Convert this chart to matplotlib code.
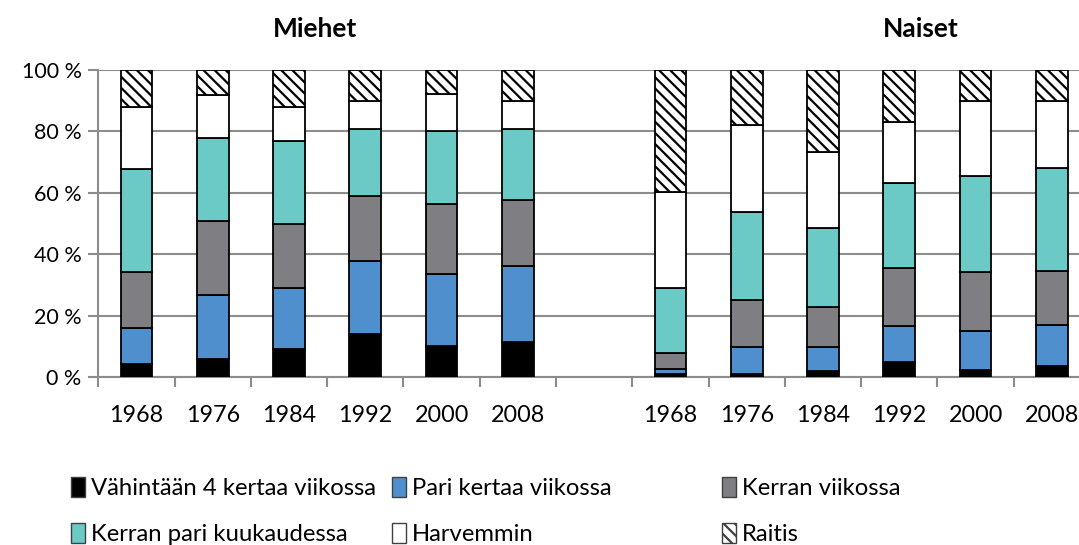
import matplotlib
matplotlib.use("Agg")
import matplotlib.pyplot as plt
from matplotlib.patches import Patch
import numpy as np

plt.rcParams['font.family'] = ['Lato', 'DejaVu Sans']
plt.rcParams['hatch.linewidth'] = 1.6

years = ["1968", "1976", "1984", "1992", "2000", "2008"]
groups = ["Miehet", "Naiset"]
series = ["Vähintään 4 kertaa viikossa", "Pari kertaa viikossa", "Kerran viikossa",
          "Kerran pari kuukaudessa", "Harvemmin", "Raitis"]

# segment sizes (percent)
men_vah = [4.1, 6.0, 9.1, 14.1, 10.0, 11.4]
men_pari = [11.8, 20.8, 19.8, 23.8, 23.5, 24.9]
men_kerran = [18.4, 24.1, 21.1, 21.0, 22.7, 21.4]
men_kuuk = [33.3, 27.0, 26.9, 21.9, 24.0, 23.2]
men_harv = [20.3, 14.0, 11.0, 9.1, 11.9, 9.1]
men_raitis = [12.1, 8.1, 12.1, 10.1, 7.9, 10.0]

women_vah = [1.1, 0.9, 2.0, 5.0, 2.2, 3.5]
women_pari = [1.6, 8.9, 7.8, 11.6, 12.7, 13.6]
women_kerran = [5.1, 15.3, 12.9, 18.9, 19.4, 17.4]
women_kuuk = [21.3, 28.8, 25.8, 27.7, 31.1, 33.7]
women_harv = [31.3, 28.1, 24.7, 20.0, 24.4, 21.6]
women_raitis = [39.6, 18.0, 26.8, 16.8, 10.2, 10.2]

colors = ["#000000", "#4F8FCE", "#7F7F83", "#6BCAC5", "#FFFFFF", "#FFFFFF"]
hatches = [None, None, None, None, None, "\\\\\\"]

men = [men_vah, men_pari, men_kerran, men_kuuk, men_harv, men_raitis]
women = [women_vah, women_pari, women_kerran, women_kuuk, women_harv, women_raitis]

fig = plt.figure(figsize=(10.79, 5.45), dpi=100)
ax = fig.add_axes([98.3 / 1079, 1 - 377 / 545, (1090 - 98.3) / 1079, (377 - 70) / 545])

xm = np.arange(6)
xw = np.arange(7, 13)
width = 0.415
grid_c = "#8C8C8C"

for vals_set, xpos in [(men, xm), (women, xw)]:
    bottom = np.zeros(6)
    for i, vals in enumerate(vals_set):
        v = np.array(vals)
        ax.bar(xpos, v, width, bottom=bottom, color=colors[i], edgecolor="black",
               linewidth=1.3, hatch=hatches[i], zorder=3)
        bottom += v

ax.set_xlim(-0.5, 12.5)
ax.set_ylim(0, 100)
ax.set_yticks(np.arange(0, 101, 20))
ax.set_yticklabels([f"{v} %" for v in range(0, 101, 20)], fontsize=15.5)
ax.yaxis.grid(True, color=grid_c, linewidth=1.5, zorder=0)
ax.set_axisbelow(True)

ax.set_xticks(np.arange(-0.5, 13, 1.0))
ax.set_xticklabels([])
ax.set_xticks(list(xm) + list(xw), minor=True)
ax.set_xticklabels(years + years, minor=True, fontsize=16.8)
ax.tick_params(axis='x', which='major', length=7, width=1.5, color=grid_c, direction='out')
ax.tick_params(axis='x', which='minor', length=0, pad=20)
ax.tick_params(axis='y', length=7, width=1.5, color=grid_c, pad=5)

for s in ['top', 'right']:
    ax.spines[s].set_visible(False)
for s in ['left', 'bottom']:
    ax.spines[s].set_color(grid_c)
    ax.spines[s].set_linewidth(1.5)

fig.text(315 / 1079, 1 - 29 / 545, groups[0], fontsize=19, fontweight='bold', ha='center', va='center')
fig.text(921 / 1079, 1 - 29 / 545, groups[1], fontsize=19, fontweight='bold', ha='center', va='center')

# legend
pos = [(71, 488), (392, 488), (722, 488), (71, 534), (392, 534), (722, 534)]
for i, name in enumerate(series):
    h = Patch(facecolor=colors[i], edgecolor="#404040", hatch=hatches[i], linewidth=1.0)
    x, y = pos[i]
    fig.legend([h], [name], loc='center left', bbox_to_anchor=(x / 1079, 1 - y / 545),
               frameon=False, fontsize=17.2, handlelength=0.6, handleheight=0.9,
               handletextpad=0.25, borderpad=0, borderaxespad=0)

fig.savefig("out.png", dpi=100)
